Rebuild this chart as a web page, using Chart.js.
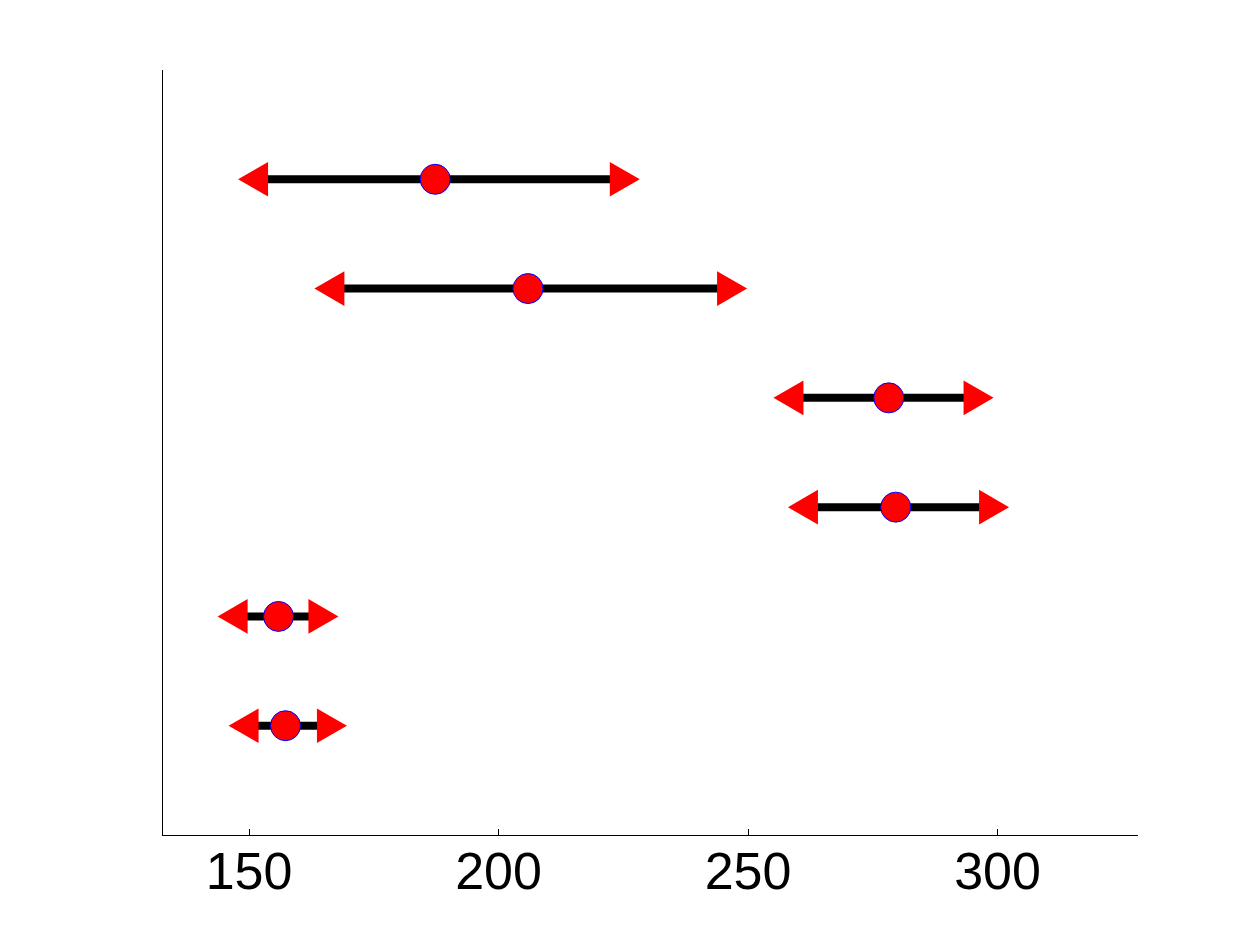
<!DOCTYPE html>
<html>
<head>
<meta charset="utf-8">
<script src="https://cdn.jsdelivr.net/npm/chart.js@4/dist/chart.umd.min.js"></script>
<style>
  html, body { margin: 0; padding: 0; background: #fff; }
  #wrap { width: 1256px; height: 938px; }
</style>
</head>
<body>
<div id="wrap"><canvas id="cv" width="1256" height="938"></canvas></div>
<script>
/* interval plot: one row per item, centre dot + arrowed range */
const rows = [6, 5, 4, 3, 2, 1];
const centers = [187.3, 205.9, 278.2, 279.6, 155.9, 157.3];
const lows = [151.8, 167.1, 259.1, 262.0, 147.7, 149.9];
const highs = [224.3, 245.8, 295.2, 298.3, 163.9, 165.6];
const xTicks = [150, 200, 250, 300];

const red = "#ff0000", blue = "#0000ff", black = "#000000";

const rangeSets = rows.map((y, i) => ({
  type: "line",
  data: [{ x: lows[i], y }, { x: highs[i], y }],
  borderColor: black, borderWidth: 8, borderCapStyle: "butt",
  pointStyle: "triangle", pointRadius: 20, pointHoverRadius: 20,
  pointRotation: [-90, 90],
  pointBackgroundColor: red, pointBorderWidth: 0,
  clip: false,
}));

const centerSet = {
  type: "scatter",
  data: rows.map((y, i) => ({ x: centers[i], y })),
  pointStyle: "circle", pointRadius: 15, pointHoverRadius: 15,
  backgroundColor: red, borderColor: blue, borderWidth: 1,
  clip: false,
};

new Chart(document.getElementById("cv"), {
  type: "scatter",
  data: { datasets: [centerSet, ...rangeSets] },
  options: {
    responsive: false, animation: false,
    layout: { padding: { left: 162, top: 70, right: 119, bottom: 0 } },
    plugins: { legend: { display: false }, tooltip: { enabled: false } },
    events: [],
    scales: {
      x: {
        type: "linear", min: 132.55, max: 327.95,
        afterBuildTicks: (s) => { s.ticks = xTicks.map((v) => ({ value: v })); },
        afterFit: (s) => { s.height = 103; },
        border: { color: black, width: 1 },
        grid: { drawOnChartArea: false, drawTicks: true, tickLength: -6, color: black, tickWidth: 1 },
        ticks: { color: black, padding: 14, maxRotation: 0, font: { family: "Liberation Sans", size: 52 } },
      },
      y: {
        type: "linear", min: 0, max: 7,
        afterFit: (s) => { s.width = 0; },
        border: { color: black, width: 1 },
        grid: { display: false },
        ticks: { display: false },
      },
    },
  },
});
</script>
</body>
</html>
